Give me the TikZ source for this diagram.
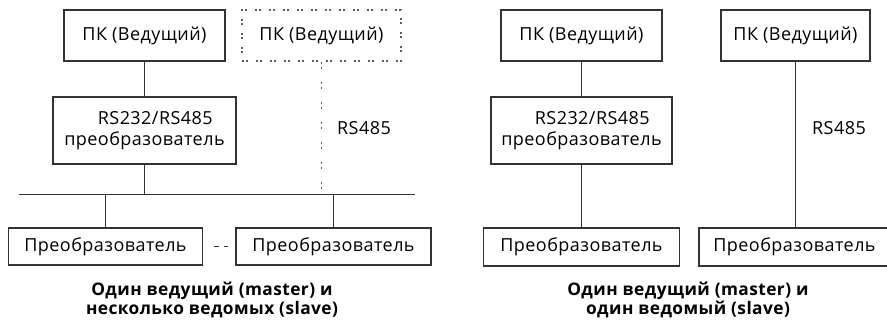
\documentclass[tikz,border=0pt]{standalone}
\usepackage{fontspec}
\setmainfont{Open Sans}[LetterSpace=2.5]
\definecolor{linegray}{HTML}{333333}
\tikzset{
  box/.style={draw=linegray, line width=1.2pt, rectangle, inner sep=0pt, font=\fontsize{18}{21}\selectfont, text=black},
  dotbox/.style={box, draw=linegray!80, dash pattern=on 2pt off 2pt on 2pt off 8pt},
  wire/.style={draw=linegray, line width=1.2pt},
  dotwire/.style={draw=linegray!80, line width=1.2pt, dash pattern=on 2pt off 3pt on 2pt off 13pt},
  lbl/.style={font=\fontsize{18}{21}\selectfont, text=black},
  captext/.style={font=\bfseries\fontsize{17.3}{19}\selectfont, align=center, text=black}
}
\begin{document}
\begin{tikzpicture}[x=1pt, y=-1pt]
\useasboundingbox (0,0) rectangle (887,320);
% left diagram
\node[box, minimum width=161pt, minimum height=51pt] (pc1) at (144.5,35.5) {ПК (Ведущий)};
\node[dotbox, minimum width=159pt, minimum height=51pt] (pc2) at (321.5,35.5) {ПК (Ведущий)};
\node[box, minimum width=183pt, minimum height=67pt, align=center] (conv1) at (144.5,130.5) {\hspace*{1.2em}RS232/RS485\\преобразователь};
\coordinate (busL) at (19,194.5);
\coordinate (busR) at (415,194.5);
\node[box, minimum width=194pt, minimum height=37pt] (s1) at (105.5,246.5) {Преобразователь};
\node[box, minimum width=195pt, minimum height=37pt] (s2) at (333.5,246.5) {Преобразователь};
\node[lbl] (rs1) at (364,128) {RS485};
\node[captext] (cap1) at (212,300) {Один ведущий (master) и\\несколько ведомых (slave)};
\draw[wire] (busL) -- (busR);
\draw[wire] (pc1.south) -- (conv1.north);
\draw[wire] (conv1.south) -- (conv1.south |- busL);
\draw[wire] (s1.north |- busL) -- (s1.north);
\draw[wire] (s2.north |- busL) -- (s2.north);
\draw[dotwire] (pc2.south) -- (pc2.south |- busL);
\draw[wire, shorten <=11pt, shorten >=7pt, dash pattern=on 5pt off 5pt] (s1.east) -- (s2.west);
% right diagram
\node[box, minimum width=161pt, minimum height=51pt] (pc3) at (581.5,35.5) {ПК (Ведущий)};
\node[box, minimum width=181pt, minimum height=67pt, align=center] (conv2) at (581.5,130.5) {\hspace*{1.2em}RS232/RS485\\преобразователь};
\node[box, minimum width=196pt, minimum height=38pt] (s3) at (581.5,247) {Преобразователь};
\node[box, minimum width=149pt, minimum height=51pt] (pc4) at (795.5,35.5) {ПК (Ведущий)};
\node[box, minimum width=191pt, minimum height=38pt] (s4) at (794.5,247) {Преобразователь};
\node[lbl] (rs2) at (839,128) {RS485};
\node[captext] (cap2) at (688,300) {Один ведущий (master) и\\один ведомый (slave)};
\draw[wire] (pc3.south) -- (conv2.north);
\draw[wire] (conv2.south) -- (s3.north);
\draw[wire] (pc4.south) -- (pc4.south |- s4.north);
\end{tikzpicture}
\end{document}
